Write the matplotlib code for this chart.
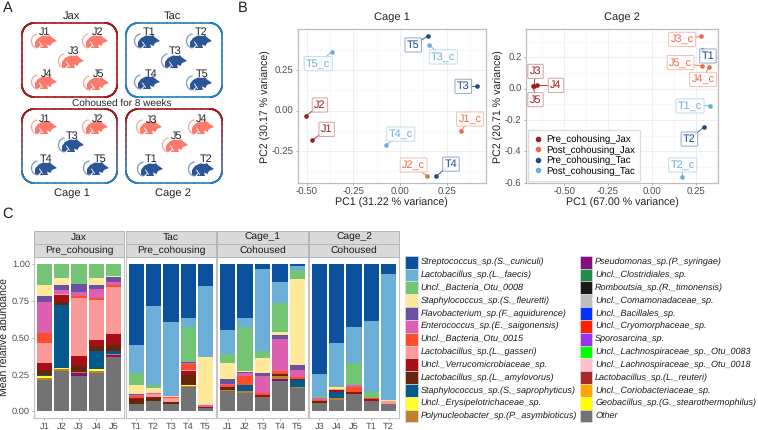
import numpy as np
import matplotlib
matplotlib.use("Agg")
import matplotlib.pyplot as plt
from matplotlib.collections import LineCollection
from matplotlib.patches import Rectangle, Polygon
from matplotlib.lines import Line2D

plt.rcParams["font.family"] = ["Liberation Sans", "DejaVu Sans"]
plt.rcParams["text.hinting"] = "none"

W, H = 758, 430

# panel B, PCA scores
cage1_names = ["T5", "T3_c", "T5_c", "T3", "J2", "J1", "J1_c", "T4_c", "J2_c", "T4"]
cage1_x = [0.148, 0.155, -0.364, 0.414, -0.502, -0.471, 0.327, -0.075, 0.146, 0.195]
cage1_y = [0.461, 0.407, 0.366, 0.151, -0.031, -0.184, -0.126, -0.215, -0.407, -0.405]
cage1_group = [2, 3, 3, 2, 0, 0, 1, 3, 1, 2]

cage2_names = ["J3", "J5", "J4", "J3_c", "T1", "J5_c", "J4_c", "T1_c", "T2", "T2_c"]
cage2_x = [-0.671, -0.675, -0.656, 0.283, 0.289, 0.285, 0.325, 0.333, 0.297, 0.175]
cage2_y = [0.017, 0.015, 0.021, 0.333, 0.246, 0.144, 0.136, -0.108, -0.246, -0.561]
cage2_group = [0, 0, 0, 1, 2, 1, 1, 3, 2, 3]

group_names = ["Pre_cohousing_Jax", "Post_cohousing_Jax", "Pre_cohousing_Tac", "Post_cohousing_Tac"]

# panel C, relative abundance per sample
samples = ["J1", "J2", "J3", "J4", "J5", "T1", "T2", "T3", "T4", "T5",
           "J1", "J2", "T3", "T4", "T5", "J3", "J4", "J5", "T1", "T2"]
strep = [0, 0, 0, 0, 0, .55, .285, .395, .37, .15, .45, .37, .035, .125, .01, .75, .535, .43, .39, .065]
faecis = [0, 0, 0, 0, 0, .195, .535, .505, .06, .48, .16, .06, .56, .14, .03, .15, .295, .245, .48, .86]
otu8 = [.145, .095, .135, .095, .08, .08, .025, 0, .235, 0, .065, .30, .045, .195, .06, .015, .005, .145, .04, 0]
fleur = [.07, .045, 0, .045, .005, .06, .03, .005, 0, .33, .11, .005, .10, .02, .59, 0, .015, 0, 0, .01]
flavo = [.04, .04, .055, .03, .04, .005, 0, 0, .01, 0, .03, .005, .02, .03, .03, 0, 0, .005, 0, 0]
entero = [.215, .025, .025, .06, .015, .005, .01, 0, .005, .01, .01, .02, .12, .215, .05, .01, 0, .015, 0, 0]
otu15 = [.065, 0, .015, .015, .015, .015, 0, .01, .04, 0, .01, .06, .01, .025, .01, .01, 0, .03, .01, 0]
gasseri = [.14, .005, .395, .275, .32, .005, .02, .025, .01, 0, 0, 0, 0, 0, 0, 0, .01, 0, 0, .015]
verruco = [.045, .045, .07, .035, .075, .005, .01, 0, .025, .01, .005, 0, .015, 0, 0, 0, .01, .01, .015, 0]
amylo = [.035, .025, .04, .035, .045, .03, .015, .01, .065, 0, .015, 0, 0, .015, .01, .01, 0, .005, 0, 0]
sapro = [.01, .425, 0, .125, .02, 0, 0, 0, 0, 0, 0, .045, 0, 0, .045, 0, .045, 0, 0, 0]
erysip = [.01, .01, 0, .015, 0, 0, 0, 0, .01, 0, 0, 0, 0, 0, 0, 0, 0, 0, 0, 0]
poly = [.015, .01, .01, .015, .005, 0, .005, 0, .01, 0, .01, .015, 0, .015, .01, 0, .01, 0, 0, 0]
pseudo = [0, 0, .02, 0, .01, 0, 0, 0, 0, 0, 0, 0, 0, .015, 0, 0, 0, 0, 0, 0]
other = [.21, .275, .235, .255, .37, .05, .065, .05, .16, .02, .135, .12, .095, .205, .155, .055, .075, .115, .065, .05]
trace = [0] * 20  # taxa too small to see in any bar

taxa = ["Streptococcus_sp.(S._cuniculi)", "Lactobacillus_sp.(L._faecis)", "Uncl._Bacteria_Otu_0008",
        "Staphylococcus_sp.(S._fleuretti)", "Flavobacterium_sp.(F._aquidurence)", "Enterococcus_sp.(E._saigonensis)",
        "Uncl._Bacteria_Otu_0015", "Lactobacillus_sp.(L._gasseri)", "Uncl._Verrucomicrobiaceae_sp.",
        "Lactobacillus_sp.(L._amylovorus)", "Staphylococcus_sp.(S._saprophyticus)", "Uncl._Erysipelotrichaceae_sp.",
        "Polynucleobacter_sp.(P._asymbioticus)", "Pseudomonas_sp.(P._syringae)", "Uncl._Clostridiales_sp.",
        "Romboutsia_sp.(R._timonensis)", "Uncl._Comamonadaceae_sp.", "Uncl._Bacillales_sp.",
        "Uncl._Cryomorphaceae_sp.", "Sporosarcina_sp.", "Uncl._Lachnospiraceae_sp._Otu_0083",
        "Uncl._Lachnospiraceae_sp._Otu_0018", "Lactobacillus_sp.(L._reuteri)", "Uncl._Coriobacteriaceae_sp.",
        "Geobacillus_sp.(G._stearothermophilus)", "Other"]
taxa_values = [strep, faecis, otu8, fleur, flavo, entero, otu15, gasseri, verruco, amylo, sapro, erysip, poly,
               pseudo, trace, trace, trace, trace, trace, trace, trace, trace, trace, trace, trace, other]

# styles
group_colors = ["#a01b1f", "#ee6a4d", "#1c4a8c", "#6baed6"]
group_edges = ["#d9a0a0", "#f6c0b0", "#8fa8cc", "#bfdcec"]
taxa_colors = ["#0b519e", "#6baed6", "#74c476", "#fee89a", "#6a51a3", "#dd5fb0", "#fc4e2a", "#fb9a99", "#a50f15",
               "#67260a", "#045a8d", "#ffff33", "#bf812d", "#810f7c", "#238b45", "#1a1a1a", "#bdbdbd", "#0033ff",
               "#ff2200", "#9933ee", "#00ff00", "#ffc0cb", "#a52a2a", "#ffa500", "#ffff00", "#737373"]
cage1_label_x = [.071, .232, -.438, .339, -.429, -.393, .375, .004, .073, .273]
cage1_label_y = [.407, .333, .291, .151, .035, -.116, -.052, -.145, -.337, -.331]
cage2_label_x = [-.663, -.663, -.546, .173, .321, .165, .293, .219, .215, .177]
cage2_label_y = [.110, -.07, .021, .314, .208, .166, .059, -.110, -.321, -.486]
mouse_red, tail_red = "#fb7a6c", "#fba69c"
mouse_blue, tail_blue = "#2c5597", "#7f9ac4"


def px_axes(left, top, right, bottom):
    return fig.add_axes([left / W, 1 - bottom / H, (right - left) / W, (bottom - top) / H])


def rounded_box(ax, x0, y0, x1, y1, top_col, bottom_col, r=12):
    a = np.linspace(0, np.pi / 2, 12)
    xs = np.concatenate([x1 - r + r * np.sin(a), x1 - r + r * np.cos(a), x0 + r - r * np.sin(a), x0 + r - r * np.cos(a), [x1 - r]])
    ys = np.concatenate([y0 + r - r * np.cos(a), y1 - r + r * np.sin(a), y1 - r + r * np.cos(a), y0 + r - r * np.sin(a), [y0]])
    # subdivide so the colour can change along the straight sides
    t = np.linspace(0, len(xs) - 1, 400)
    xs = np.interp(t, np.arange(len(xs)), xs)
    ys = np.interp(t, np.arange(len(ys)), ys)
    c0, c1 = matplotlib.colors.to_rgb(top_col), matplotlib.colors.to_rgb(bottom_col)
    frac = (ys[:-1] - y0) / (y1 - y0)
    cols = [tuple(c0[i] + (c1[i] - c0[i]) * f for i in range(3)) for f in frac]
    segs = np.stack([np.column_stack([xs[:-1], ys[:-1]]), np.column_stack([xs[1:], ys[1:]])], axis=1)
    ax.add_collection(LineCollection(segs, colors=cols, linewidths=1.2, capstyle="round"))


def mouse(ax, x, y, body, tail):
    a = np.linspace(-0.55 * np.pi, -1.45 * np.pi, 20)
    ax.plot(x + 7 + 6.5 * np.cos(a), y + 8 + 7 * np.sin(a), color=tail, lw=0.9)
    shape = [(4, 9), (7, 5), (12, 2.5), (17, 3), (19, 2), (20.5, 4), (26, 8), (21, 10), (19.5, 13), (16, 11.5),
             (17, 15), (9, 15), (11, 11), (7, 15), (4, 15)]
    ax.add_patch(Polygon([(x + p[0], y + p[1]) for p in shape], closed=True, color=body, lw=0))
    ax.plot([x + 8.5, x + 11.5], [y + 9, y + 13.5], color="white", lw=0.6)


def score_panel(ax, names, xs, ys, groups, lab_x, lab_y):
    for i in range(len(names)):
        ax.plot([xs[i], lab_x[i]], [ys[i], lab_y[i]], color=group_colors[groups[i]], lw=0.6, zorder=3)
        ax.scatter(xs[i], ys[i], s=11, color=group_colors[groups[i]], linewidths=0, zorder=4)
        ax.text(lab_x[i], lab_y[i], names[i], ha="center", va="center", fontsize=7.8, color=group_colors[groups[i]], zorder=5,
                bbox=dict(boxstyle="round,pad=0.18,rounding_size=0.1", fc=(1, 1, 1, 0.85), ec=group_edges[groups[i]], lw=0.7))
    ax.grid(True, which="major", color="#ececec", lw=0.6)
    ax.grid(True, which="minor", color="#f4f4f4", lw=0.4)
    ax.set_axisbelow(True)
    ax.tick_params(which="minor", length=0)
    ax.tick_params(which="major", length=1.5, width=0.5, color="#888888", labelsize=6.9, labelcolor="#4d4d4d", pad=1.5)
    for s in ax.spines.values():
        s.set_color("#bdbdbd")
        s.set_linewidth(0.9)


fig = plt.figure(figsize=(W / 100, H / 100), dpi=100)

# panel B
ax1 = px_axes(297.7, 29.3, 485.7, 183)
ax1.set_xlim(-0.548, 0.459)
ax1.set_ylim(-0.448, 0.504)
ax1.set_xticks([-0.5, -0.25, 0, 0.25], ["-0.50", "-0.25", "0.00", "0.25"])
ax1.set_yticks([-0.25, 0, 0.25], ["-0.25", "0.00", "0.25"])
ax1.set_xticks([-0.375, -0.125, 0.125, 0.375], minor=True)
ax1.set_yticks([-0.375, -0.125, 0.125, 0.375], minor=True)
score_panel(ax1, cage1_names, cage1_x, cage1_y, cage1_group, cage1_label_x, cage1_label_y)
ax1.set_xlabel("PC1 (31.22 % variance)", fontsize=7.7, labelpad=1, color="#222222")
ax1.set_ylabel("PC2 (30.17 % variance)", fontsize=7.7, labelpad=0.5, color="#222222")
ax1.set_title("Cage 1", fontsize=8, pad=7, color="#222222")

ax2 = px_axes(525.7, 29.3, 718.3, 183)
ax2.set_xlim(-0.719, 0.380)
ax2.set_ylim(-0.601, 0.378)
ax2.set_xticks([-0.5, -0.25, 0, 0.25], ["-0.50", "-0.25", "0.00", "0.25"])
ax2.set_yticks([-0.6, -0.4, -0.2, 0, 0.2], ["-0.6", "-0.4", "-0.2", "0.0", "0.2"])
ax2.set_xticks([-0.625, -0.375, -0.125, 0.125, 0.375], minor=True)
ax2.set_yticks([-0.5, -0.3, -0.1, 0.1, 0.3], minor=True)
score_panel(ax2, cage2_names, cage2_x, cage2_y, cage2_group, cage2_label_x, cage2_label_y)
ax2.set_xlabel("PC1 (67.00 % variance)", fontsize=7.7, labelpad=1, color="#222222")
ax2.set_ylabel("PC2 (20.71 % variance)", fontsize=7.7, labelpad=0.5, color="#222222")
ax2.set_title("Cage 2", fontsize=8, pad=7, color="#222222")
handles = [Line2D([], [], marker="o", ls="", ms=3, color=c) for c in group_colors]
leg = ax2.legend(handles, group_names, loc="lower left", bbox_to_anchor=(0.012, 0.012), fontsize=6.9, frameon=True,
                 fancybox=False, framealpha=0.9, edgecolor="#d9d9d9", handlelength=1.0, handletextpad=0.35,
                 labelspacing=0.12, borderpad=0.55, borderaxespad=0)
leg.get_frame().set_linewidth(0.9)
leg.set_zorder(6)

# panel C
facet_left = [34, 126, 217, 309]
facet_right = [124, 216, 308, 399]
facet_top = ["Jax", "Tac", "Cage_1", "Cage_2"]
facet_sub = ["Pre_cohousing", "Pre_cohousing", "Cohoused", "Cohoused"]
for f in range(4):
    ax = px_axes(facet_left[f], 257, facet_right[f], 418)
    idx = np.arange(f * 5, f * 5 + 5)
    bottom = np.zeros(5)
    for k in range(len(taxa) - 1, -1, -1):
        vals = np.array(taxa_values[k])[idx]
        if vals.sum() == 0:
            continue
        ax.bar(np.arange(5), vals, 0.9, bottom=bottom, color=taxa_colors[k], linewidth=0)
        bottom = bottom + vals
    ax.set_xlim(-0.6, 4.6)
    ax.set_ylim(-0.048, 1.048)
    ax.set_xticks(np.arange(5), samples[f * 5:f * 5 + 5])
    ax.tick_params(axis="x", length=1.5, width=0.5, color="#888888", labelsize=6.7, labelcolor="#4d4d4d", pad=1.5)
    if f == 0:
        ax.set_yticks([0, 0.25, 0.5, 0.75, 1], ["0.00", "0.25", "0.50", "0.75", "1.00"])
        ax.tick_params(axis="y", length=1.5, width=0.5, color="#888888", labelsize=6.7, labelcolor="#4d4d4d", pad=1.5)
        ax.set_ylabel("Mean relative abundance", fontsize=7.6, color="#222222")
        ax.yaxis.set_label_coords(-0.267, 0.5)
    else:
        ax.set_yticks([])
    for s in ax.spines.values():
        s.set_color("#c4c4c4")
        s.set_linewidth(0.8)

# everything placed by pixel: panel A drawing, letters, strips, taxon legend
ov = fig.add_axes([0, 0, 1, 1])
ov.set_xlim(0, W)
ov.set_ylim(H, 0)
ov.axis("off")
ov.patch.set_alpha(0)

ov.text(3, 8, "A", fontsize=10.5, ha="left", va="center", color="#222222")
ov.text(238, 8, "B", fontsize=10.5, ha="left", va="center", color="#222222")
ov.text(2, 214, "C", fontsize=10.5, ha="left", va="center", color="#222222")

for f in range(4):
    for top, bot, txt in [(231, 244, facet_top[f]), (244, 257, facet_sub[f])]:
        ov.add_patch(Rectangle((facet_left[f], top), facet_right[f] - facet_left[f], bot - top, fc="#d9d9d9", ec="#b5b5b5", lw=0.7))
        ov.text((facet_left[f] + facet_right[f]) / 2, (top + bot) / 2, txt, ha="center", va="center", fontsize=7.4, color="#1a1a1a")

# taxon legend
for k in range(len(taxa)):
    col_x = 405.3 if k < 13 else 580
    row_y = 255.7 + (k % 13) * 12.83
    ov.add_patch(Rectangle((col_x, row_y), 12.4, 12.83, fc=taxa_colors[k], ec="#e8e8e8", lw=0.4))
    ov.text(col_x + 15.2, row_y + 6.4, taxa[k], style="italic", fontsize=6.45, ha="left", va="center", color="#1a1a1a")

# panel A
rounded_box(ov, 22, 23, 117, 97, "#a8181c", "#a8181c")
rounded_box(ov, 126, 23, 222, 97, "#2a7fbd", "#2a7fbd")
rounded_box(ov, 22, 109, 117, 183, "#a8181c", "#2a7fbd")
rounded_box(ov, 126, 109, 222, 183, "#a8181c", "#2a7fbd")
mice = [("J1", 31, 33, 45, 32), ("J2", 82, 33, 98, 32), ("J3", 58, 53, 74, 51), ("J4", 31, 74, 47, 74), ("J5", 83, 75, 99, 74),
        ("T1", 134, 33, 149, 32), ("T2", 186, 33, 201, 32), ("T3", 161, 53, 175, 51), ("T4", 134, 74, 151, 74), ("T5", 186, 75, 202, 74),
        ("J1", 31, 119, 45, 119), ("J2", 82, 119, 98, 119), ("T3", 58, 137, 72, 136), ("T4", 31, 160, 46, 159), ("T5", 83, 160, 100, 159),
        ("J3", 136, 119, 152, 120), ("J4", 188, 119, 202, 119), ("J5", 162, 137, 177, 136), ("T1", 137, 161, 151, 159), ("T2", 188, 161, 206, 159)]
for name, mx, my, tx, ty in mice:
    red = name.startswith("J")
    mouse(ov, mx, my, mouse_red if red else mouse_blue, tail_red if red else tail_blue)
    ov.text(tx, ty, name, fontsize=7.8, ha="center", va="center", color="#222222")
ov.text(71, 16, "Jax", fontsize=8, ha="center", va="center", color="#222222")
ov.text(172, 16, "Tac", fontsize=8, ha="center", va="center", color="#222222")
ov.text(121.5, 103, "Cohoused for 8 weeks", fontsize=7.2, ha="center", va="center", color="#222222")
ov.text(72, 192.5, "Cage 1", fontsize=8, ha="center", va="center", color="#222222")
ov.text(173, 192.5, "Cage 2", fontsize=8, ha="center", va="center", color="#222222")

fig.savefig("out.png", dpi=100)
